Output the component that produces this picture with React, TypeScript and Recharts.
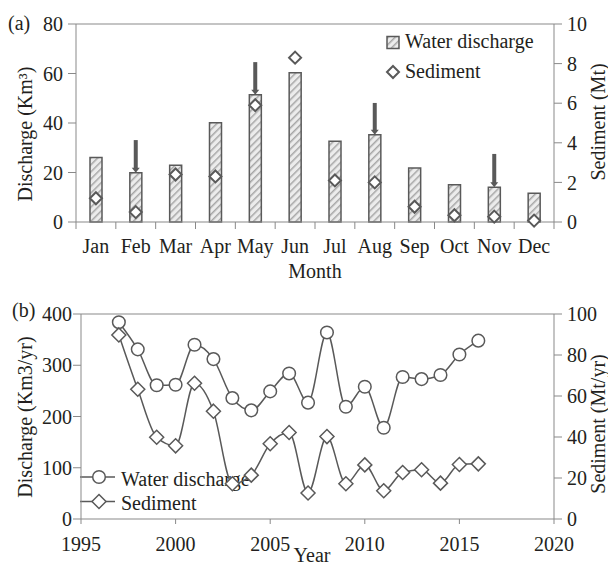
import {
  ComposedChart,
  Bar,
  Line,
  XAxis,
  YAxis,
  ReferenceLine,
} from "recharts";

const months = ["Jan", "Feb", "Mar", "Apr", "May", "Jun", "Jul", "Aug", "Sep", "Oct", "Nov", "Dec"];
const monthlyDischarge = [26.1, 19.9, 22.9, 40.1, 51.4, 60.3, 32.6, 35.3, 21.8, 15.1, 14.0, 11.6];
const monthlySediment = [1.2, 0.5, 2.4, 2.3, 5.9, 8.3, 2.1, 2.0, 0.77, 0.34, 0.27, 0.07];

const arrowMonths = ["Feb", "May", "Aug", "Nov"];
const arrowStarts = [33.1, 64.6, 48.1, 27.5];

const years = [1997, 1998, 1999, 2000, 2001, 2002, 2003, 2004, 2005, 2006, 2007, 2008, 2009, 2010, 2011, 2012, 2013, 2014, 2015, 2016];
const annualDischarge = [384, 331, 261, 262, 340, 312, 236, 212, 249, 284, 227, 364, 219, 258, 178, 277, 273, 281, 321, 348];
const annualSediment = [89.8, 63.3, 39.9, 35.7, 66.2, 52.6, 17.2, 21.4, 36.7, 42.2, 12.7, 40.2, 17.2, 26.4, 13.8, 22.7, 24.0, 17.5, 26.6, 26.9];

const monthTicksLeft = [0, 20, 40, 60, 80];
const monthTicksRight = [0, 2, 4, 6, 8, 10];
const yearTicks = [1995, 2000, 2005, 2010, 2015, 2020];
const yearTicksLeft = [0, 100, 200, 300, 400];
const yearTicksRight = [0, 20, 40, 60, 80, 100];

const monthlyData = months.map((month, i) => ({
  month,
  discharge: monthlyDischarge[i],
  sediment: monthlySediment[i],
}));

const annualData = years.map((year, i) => ({
  year,
  discharge: annualDischarge[i],
  sediment: annualSediment[i],
}));

const INK = "#231f20";
const AXIS = "#898989";
const MARK = "#595959";
const FONT = 20;

function diamondPath(cx: number, cy: number, h: number) {
  return `M${cx},${cy - h} L${cx + h},${cy} L${cx},${cy + h} L${cx - h},${cy} Z`;
}

const smallDiamond = (p: any) => (
  <path key={p.key ?? p.index} d={diamondPath(p.cx, p.cy, 6)} fill="#fff" stroke={MARK} strokeWidth={2} />
);

const bigDiamond = (p: any) => (
  <path key={p.key ?? p.index} d={diamondPath(p.cx, p.cy, 7)} fill="#fff" stroke={MARK} strokeWidth={1.5} />
);

const circleDot = (p: any) => (
  <circle key={p.key ?? p.index} cx={p.cx} cy={p.cy} r={6.3} fill="#fff" stroke={MARK} strokeWidth={1.5} />
);

// month labels sit in the bands, tick marks go on the band edges
function MonthTick(props: any) {
  const { x, y, payload, index, visibleTicksCount } = props;
  const count = visibleTicksCount || 12;
  const half = 478 / count / 2;
  return (
    <g>
      <line x1={x - half} x2={x - half} y1={y} y2={y + 7} stroke={AXIS} />
      {index === count - 1 && <line x1={x + half} x2={x + half} y1={y} y2={y + 7} stroke={AXIS} />}
      <text x={x} y={y + 17} dy="0.71em" textAnchor="middle" fill={INK} fontSize={FONT}>
        {payload.value}
      </text>
    </g>
  );
}

const Arrow = (p: any) => {
  const { x1, y1, x2, y2 } = p;
  if ([x1, y1, x2, y2].some((v) => typeof v !== "number" || isNaN(v))) return <g />;
  return (
    <g>
      <line x1={x1} x2={x2} y1={y1} y2={y2 - 4} stroke={MARK} strokeWidth={4} />
      <polygon points={`${x2 - 4},${y2 - 5} ${x2 + 4},${y2 - 5} ${x2},${y2}`} fill={MARK} />
    </g>
  );
};

function MonthlyChart() {
  return (
    <ComposedChart width={608} height={290} data={monthlyData} margin={{ top: 24, right: 0, bottom: 0, left: 0 }}>
      <defs>
        <pattern id="hatch" width="5" height="5" patternUnits="userSpaceOnUse" patternTransform="rotate(45)">
          <rect width="5" height="5" fill="#ececec" />
          <line x1="0" y1="0" x2="0" y2="5" stroke="#a6a6a6" strokeWidth="3" />
        </pattern>
      </defs>
      <XAxis
        dataKey="month"
        interval={0}
        height={68}
        tickSize={0}
        tickMargin={0}
        tickLine={false}
        axisLine={{ stroke: AXIS }}
        tick={<MonthTick />}
      />
      <YAxis
        yAxisId="l"
        domain={[0, 80]}
        ticks={monthTicksLeft}
        width={76}
        tickSize={8}
        tickMargin={5}
        axisLine={{ stroke: AXIS }}
        tickLine={{ stroke: AXIS }}
        tick={{ fill: INK, fontSize: FONT }}
      />
      <YAxis
        yAxisId="r"
        orientation="right"
        domain={[0, 10]}
        ticks={monthTicksRight}
        width={54}
        tickSize={8}
        tickMargin={5}
        axisLine={{ stroke: AXIS }}
        tickLine={{ stroke: AXIS }}
        tick={{ fill: INK, fontSize: FONT }}
      />
      <ReferenceLine yAxisId="l" y={80} stroke={AXIS} />
      <Bar
        yAxisId="l"
        dataKey="discharge"
        barSize={12}
        fill="url(#hatch)"
        stroke={MARK}
        strokeWidth={1.5}
        isAnimationActive={false}
      />
      {arrowMonths.map((m, i) => (
        <ReferenceLine
          key={m}
          yAxisId="l"
          segment={[
            { x: m, y: arrowStarts[i] },
            { x: m, y: monthlyDischarge[months.indexOf(m)] },
          ]}
          shape={Arrow}
        />
      ))}
      <Line
        yAxisId="r"
        dataKey="sediment"
        stroke="none"
        dot={smallDiamond}
        activeDot={false}
        isAnimationActive={false}
      />
      <text x={8} y={30} fontSize={FONT} fill={INK}>(a)</text>
      <text x={315} y={278} fontSize={FONT} fill={INK} textAnchor="middle">Month</text>
      <text
        x={25}
        y={134}
        fontSize={FONT}
        fill={INK}
        textAnchor="middle"
        dominantBaseline="central"
        transform="rotate(-90 25 134)"
      >
        Discharge (Km³)
      </text>
      <text
        x={598}
        y={122}
        fontSize={FONT}
        fill={INK}
        textAnchor="middle"
        dominantBaseline="central"
        transform="rotate(-90 598 122)"
      >
        Sediment (Mt)
      </text>
      <rect x={387} y={36.5} width={12} height={12} fill="url(#hatch)" stroke={MARK} strokeWidth={1.5} />
      <text x={405} y={48} fontSize={FONT} fill={INK}>Water discharge</text>
      <path d={diamondPath(393, 72, 6)} fill="#fff" stroke={MARK} strokeWidth={2} />
      <text x={405} y={78} fontSize={FONT} fill={INK}>Sediment</text>
    </ComposedChart>
  );
}

function AnnualChart() {
  return (
    <ComposedChart width={608} height={278} data={annualData} margin={{ top: 24, right: 0, bottom: 0, left: 0 }}>
      <XAxis
        dataKey="year"
        type="number"
        domain={[1995, 2020]}
        ticks={yearTicks}
        height={49}
        tickSize={5}
        tickMargin={13}
        axisLine={{ stroke: AXIS }}
        tickLine={{ stroke: AXIS }}
        tick={{ fill: INK, fontSize: FONT }}
      />
      <YAxis
        yAxisId="l"
        domain={[0, 400]}
        ticks={yearTicksLeft}
        width={81}
        tickSize={8}
        tickMargin={1}
        axisLine={{ stroke: AXIS }}
        tickLine={{ stroke: AXIS }}
        tick={{ fill: INK, fontSize: FONT }}
      />
      <YAxis
        yAxisId="r"
        orientation="right"
        domain={[0, 100]}
        ticks={yearTicksRight}
        width={54}
        tickSize={8}
        tickMargin={5}
        axisLine={{ stroke: AXIS }}
        tickLine={{ stroke: AXIS }}
        tick={{ fill: INK, fontSize: FONT }}
      />
      <ReferenceLine yAxisId="l" y={400} stroke={AXIS} />
      <Line
        yAxisId="l"
        dataKey="discharge"
        type="monotone"
        stroke={MARK}
        strokeWidth={1.5}
        dot={circleDot}
        activeDot={false}
        isAnimationActive={false}
      />
      <Line
        yAxisId="r"
        dataKey="sediment"
        type="monotone"
        stroke={MARK}
        strokeWidth={1.5}
        dot={bigDiamond}
        activeDot={false}
        isAnimationActive={false}
      />
      <text x={12} y={27} fontSize={FONT} fill={INK}>(b)</text>
      <text x={312} y={272} fontSize={FONT} fill={INK} textAnchor="middle">Year</text>
      <text
        x={25}
        y={127}
        fontSize={FONT}
        fill={INK}
        textAnchor="middle"
        dominantBaseline="central"
        transform="rotate(-90 25 127)"
      >
        Discharge (Km3/yr)
      </text>
      <text
        x={598}
        y={134}
        fontSize={FONT}
        fill={INK}
        textAnchor="middle"
        dominantBaseline="central"
        transform="rotate(-90 598 134)"
      >
        Sediment (Mt/yr)
      </text>
      <line x1={80} x2={115} y1={187} y2={187} stroke={MARK} strokeWidth={1.5} />
      <circle cx={99} cy={187} r={6.3} fill="#fff" stroke={MARK} strokeWidth={1.5} />
      <text x={121} y={196} fontSize={FONT} fill={INK}>Water discharge</text>
      <line x1={80} x2={115} y1={211.5} y2={211.5} stroke={MARK} strokeWidth={1.5} />
      <path d={diamondPath(99, 211.5, 7)} fill="#fff" stroke={MARK} strokeWidth={1.5} />
      <text x={121} y={220} fontSize={FONT} fill={INK}>Sediment</text>
    </ComposedChart>
  );
}

export default function App() {
  return (
    <div
      style={{
        position: "absolute",
        left: 0,
        top: 0,
        width: 608,
        height: 568,
        background: "#fff",
        fontFamily: "'Liberation Serif', 'Times New Roman', serif",
        overflow: "hidden",
      }}
    >
      <div style={{ height: 290 }}>
        <MonthlyChart />
      </div>
      <div style={{ height: 278 }}>
        <AnnualChart />
      </div>
    </div>
  );
}
